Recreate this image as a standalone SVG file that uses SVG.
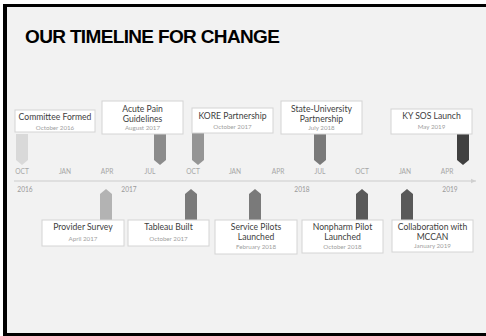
<svg xmlns="http://www.w3.org/2000/svg" width="486" height="336" viewBox="0 0 486 336">
<style>
.box{fill:#ffffff;stroke:#d4d4d4;stroke-width:1}
.t{font-family:Lato,"Open Sans",sans-serif;font-size:8.6px;fill:#404040;text-anchor:middle}
.d{font-family:Lato,"Open Sans",sans-serif;font-size:6.2px;fill:#a0a0a0;text-anchor:middle}
.m{font-family:Lato,"Open Sans",sans-serif;font-size:6.6px;fill:#a6a6a6;text-anchor:middle}
.y{font-family:Lato,"Open Sans",sans-serif;font-size:6.6px;fill:#999999;text-anchor:middle}
</style>
<defs>
<marker id="arr" viewBox="0 0 6 6" refX="5" refY="3" markerWidth="6" markerHeight="6" orient="auto" markerUnits="userSpaceOnUse">
<path d="M0,0.8 L5,3 L0,5.2 Z" fill="#d0d0d0"/>
</marker>
</defs>
<rect x="0" y="0" width="486" height="336" fill="#ffffff"/>
<rect x="3" y="4" width="483" height="332" fill="#000000"/>
<rect x="7" y="7" width="479" height="326" fill="#f2f2f2"/>
<text x="25" y="43" font-family="'Liberation Sans',Arial,sans-serif" font-weight="bold" font-size="19" letter-spacing="-0.65" fill="#000000">OUR TIMELINE FOR CHANGE</text>

<g id="connectors">
<line x1="14" y1="181" x2="476" y2="181" stroke="#d9d9d9" stroke-width="1.5" marker-end="url(#arr)"/>
</g>

<g id="axis-labels">
<text class="m" x="22" y="174">OCT</text>
<text class="m" x="65" y="174">JAN</text>
<text class="m" x="107" y="174">APR</text>
<text class="m" x="150" y="174">JUL</text>
<text class="m" x="193" y="174">OCT</text>
<text class="m" x="235" y="174">JAN</text>
<text class="m" x="278" y="174">APR</text>
<text class="m" x="320" y="174">JUL</text>
<text class="m" x="362" y="174">OCT</text>
<text class="m" x="405" y="174">JAN</text>
<text class="m" x="447" y="174">APR</text>
<text class="y" x="25" y="192">2016</text>
<text class="y" x="129" y="192">2017</text>
<text class="y" x="302" y="192">2018</text>
<text class="y" x="450" y="192">2019</text>
</g>

<g id="committee-formed">
<path d="M16,134 H28 V160 L22,165 L16,160 Z" fill="#d9d9d9"/>
<rect class="box" x="15" y="110" width="80" height="22"/>
<text class="t" x="55" y="119.5">Committee Formed</text>
<text class="d" x="55" y="129.5">October 2016</text>
</g>

<g id="acute-pain-guidelines">
<path d="M154,134 H166 V160 L160,165 L154,160 Z" fill="#8c8c8c"/>
<rect class="box" x="102" y="101" width="81" height="33"/>
<text class="t" x="142.5" y="112">Acute Pain</text>
<text class="t" x="142.5" y="121.5">Guidelines</text>
<text class="d" x="142.5" y="129.5">August 2017</text>
</g>

<g id="kore-partnership">
<path d="M192,133 H204 V160 L198,165 L192,160 Z" fill="#959595"/>
<rect class="box" x="192" y="108" width="81" height="25"/>
<text class="t" x="232.5" y="119">KORE Partnership</text>
<text class="d" x="232.5" y="129">October 2017</text>
</g>

<g id="state-university-partnership">
<path d="M314,134 H326 V160 L320,165 L314,160 Z" fill="#7a7a7a"/>
<rect class="box" x="281" y="101" width="81" height="33"/>
<text class="t" x="321.5" y="112">State-University</text>
<text class="t" x="321.5" y="121.5">Partnership</text>
<text class="d" x="321.5" y="129.5">July 2018</text>
</g>

<g id="ky-sos-launch">
<path d="M457,134 H469 V160 L463,165 L457,160 Z" fill="#404040"/>
<rect class="box" x="391" y="109" width="81" height="25"/>
<text class="t" x="431.5" y="118.5">KY SOS Launch</text>
<text class="d" x="431.5" y="129">May 2019</text>
</g>

<g id="provider-survey">
<path d="M100,220 V194 L106,189 L112,194 V220 Z" fill="#b3b3b3"/>
<rect class="box" x="42" y="220" width="82" height="26"/>
<text class="t" x="83" y="230">Provider Survey</text>
<text class="d" x="83" y="241">April 2017</text>
</g>

<g id="tableau-built">
<path d="M185,220 V194 L191,189 L197,194 V220 Z" fill="#7a7a7a"/>
<rect class="box" x="128" y="220" width="81" height="26"/>
<text class="t" x="168.5" y="230">Tableau Built</text>
<text class="d" x="168.5" y="241">October 2017</text>
</g>

<g id="service-pilots-launched">
<path d="M249,220 V194 L255,189 L261,194 V220 Z" fill="#7a7a7a"/>
<rect class="box" x="215" y="220" width="82" height="34"/>
<text class="t" x="256" y="230">Service Pilots</text>
<text class="t" x="256" y="240">Launched</text>
<text class="d" x="256" y="248.5">February 2018</text>
</g>

<g id="nonpharm-pilot-launched">
<path d="M356,220 V194 L362,189 L368,194 V220 Z" fill="#595959"/>
<rect class="box" x="302" y="220" width="81" height="33"/>
<text class="t" x="342.5" y="230">Nonpharm Pilot</text>
<text class="t" x="342.5" y="240">Launched</text>
<text class="d" x="342.5" y="248.5">October 2018</text>
</g>

<g id="collaboration-with-mccan">
<path d="M401,220 V194 L407,189 L413,194 V220 Z" fill="#595959"/>
<rect class="box" x="392" y="220" width="81" height="32"/>
<text class="t" x="432.5" y="230">Collaboration with</text>
<text class="t" x="432.5" y="240">MCCAN</text>
<text class="d" x="432.5" y="248">January 2019</text>
</g>
</svg>
